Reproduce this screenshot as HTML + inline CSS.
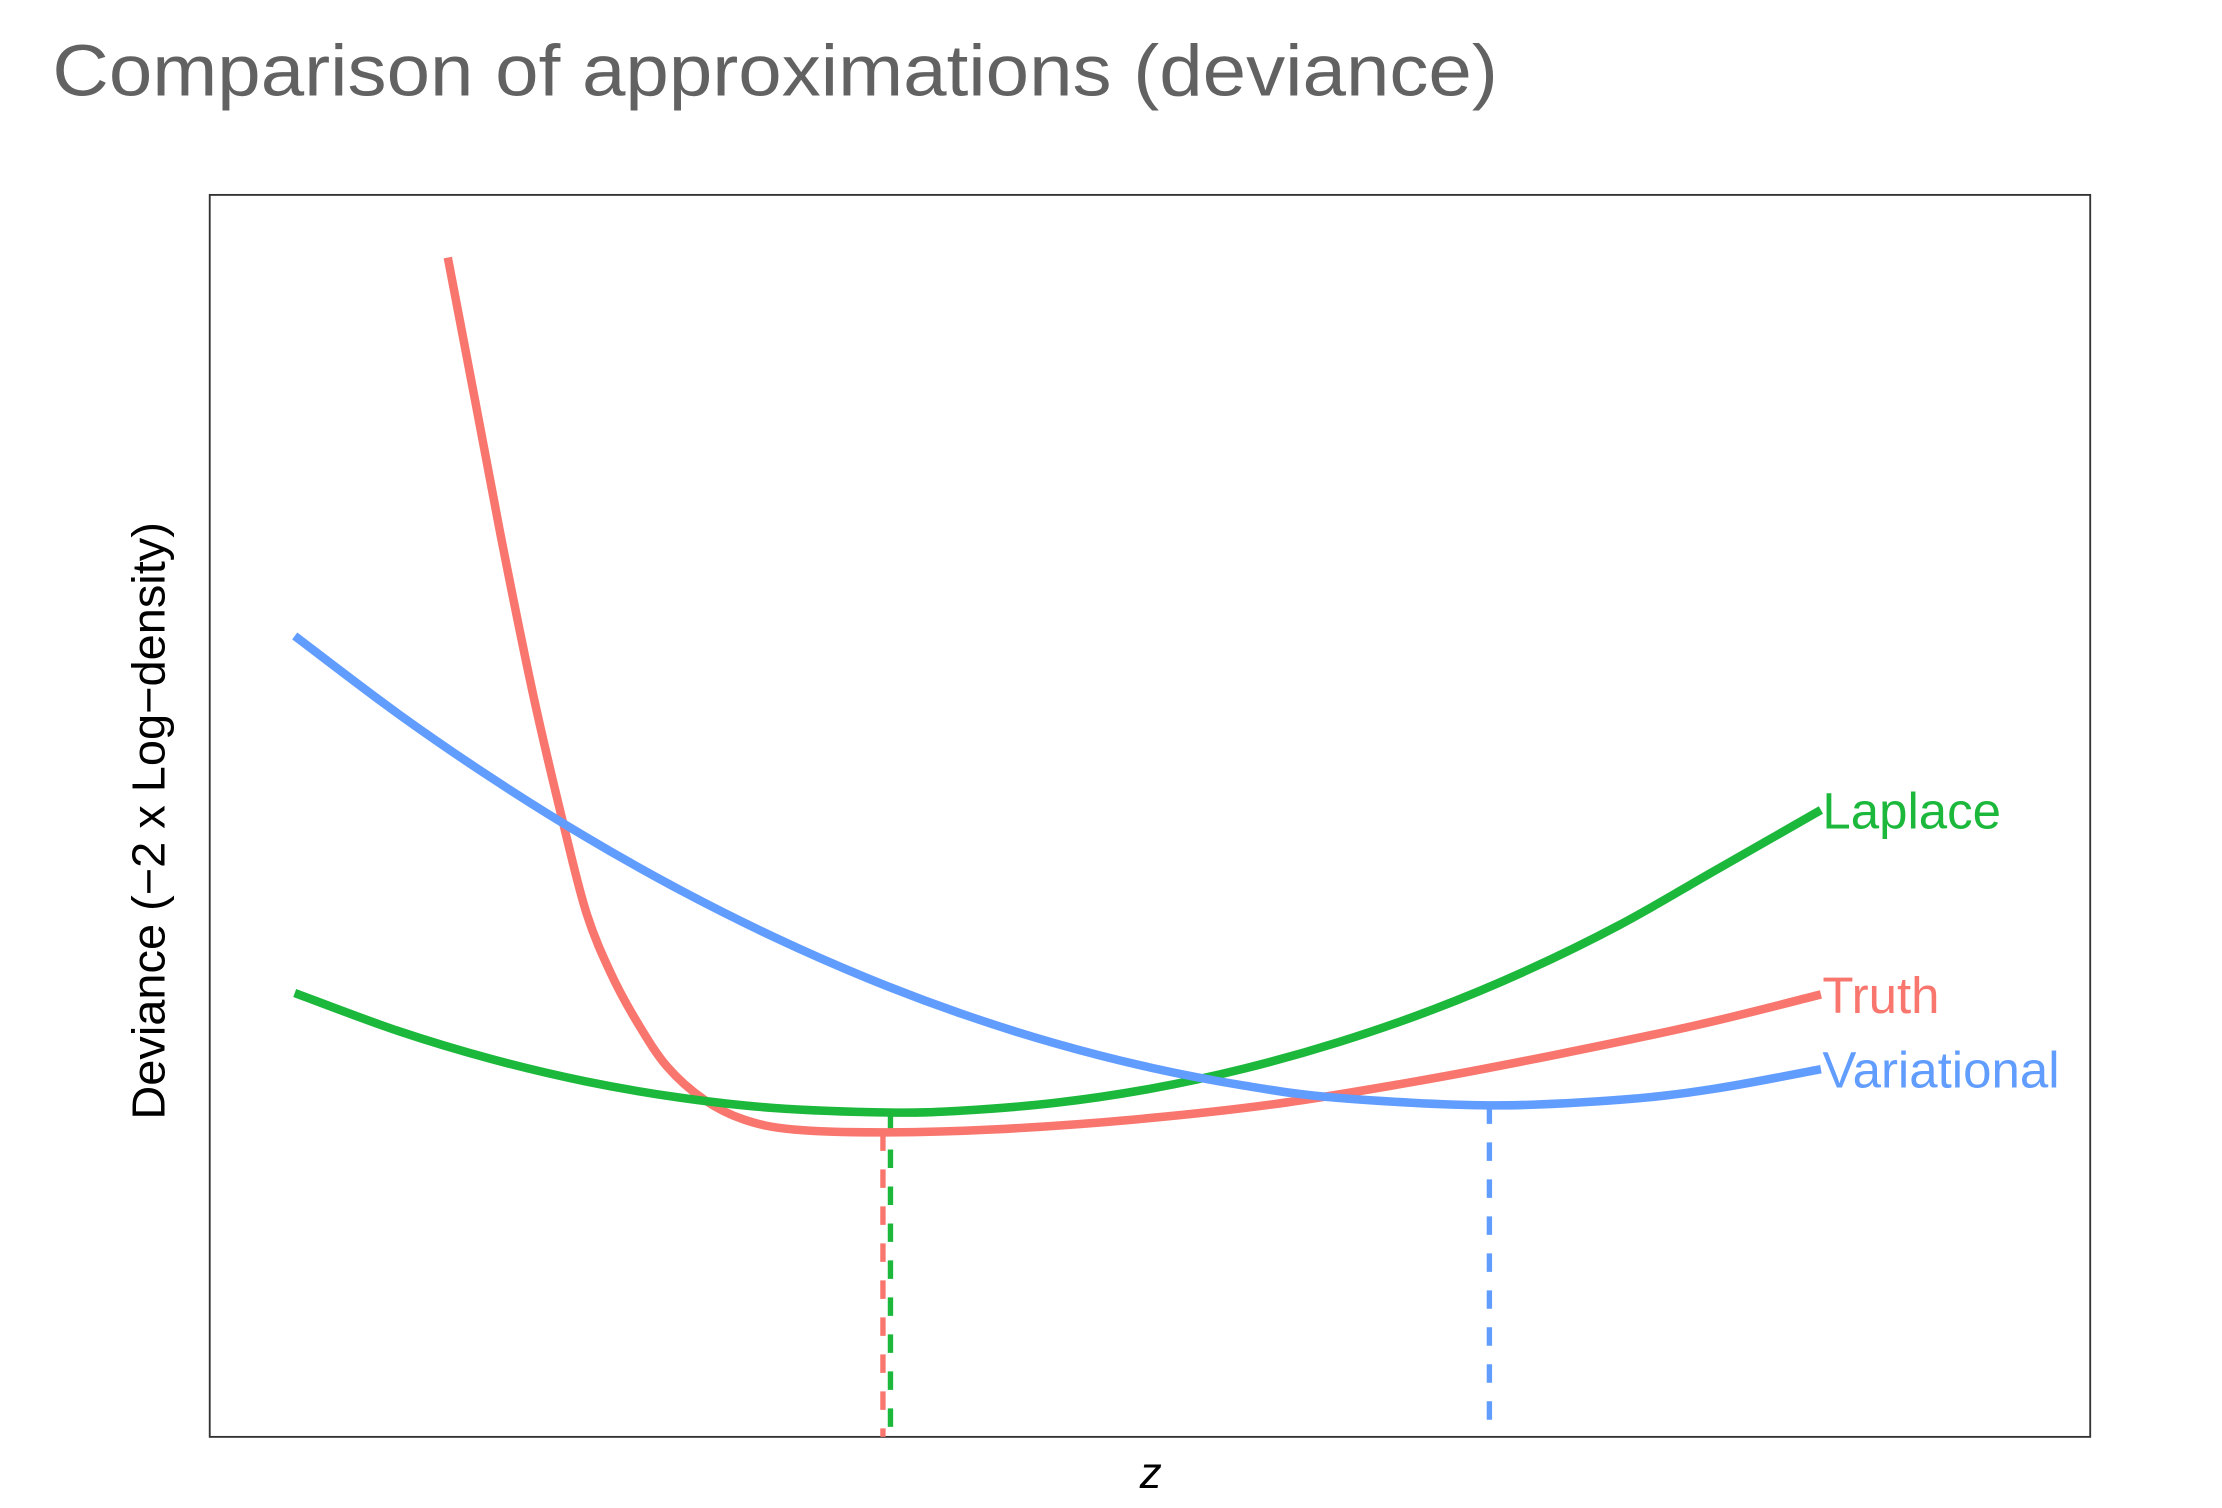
<!DOCTYPE html>
<html><head><meta charset="utf-8"><style>
html,body{margin:0;padding:0;background:#fff;}
svg{display:block;}
</style></head><body>
<svg id="chart" width="2222" height="1508" viewBox="0 0 1568 1060" preserveAspectRatio="none" xmlns="http://www.w3.org/2000/svg">
<text x="37" y="67" font-family="Liberation Sans, sans-serif" font-size="51" fill="#626262" textLength="1020" lengthAdjust="spacingAndGlyphs">Comparison of approximations (deviance)</text>
<rect x="148" y="137" width="1327" height="873" fill="none" stroke="#333" stroke-width="1.3"/>
<text transform="translate(116,577) rotate(-90)" text-anchor="middle" font-family="Liberation Sans, sans-serif" font-size="33" fill="#000">Deviance (−2 x Log−density)</text>
<text x="812" y="1046" text-anchor="middle" font-family="Liberation Sans, sans-serif" font-style="italic" font-size="31" fill="#000">z</text>
<g id="marks"></g>
</svg>
<script>
const truthZ = [1.266,1.409,1.560,1.726,1.884,2.004,2.133,2.276,2.434,2.630,2.841,3.105,3.570,4.160,4.913,5.667,6.420,7.174,7.928,8.568];
const truthY = [9.463,8.333,7.135,5.913,4.897,4.200,3.720,3.320,2.968,2.705,2.546,2.466,2.443,2.466,2.546,2.671,2.854,3.071,3.311,3.550];
const laplaceZ = [0.452,1.0,1.5,2.0,2.5,3.0,3.61,4.0,4.5,5.0,5.5,6.0,6.5,7.0,7.5,8.0,8.568];
const laplaceY = [3.562,3.258,3.031,2.852,2.722,2.639,2.603,2.618,2.681,2.793,2.955,3.166,3.426,3.740,4.110,4.540,5.030];
const variationalZ = [0.452,1.0,1.5,2.0,2.5,3.0,3.5,4.0,4.5,5.0,5.5,6.0,6.805,7.5,8.0,8.568];
const variationalY = [6.427,5.804,5.286,4.814,4.389,4.011,3.679,3.394,3.156,2.964,2.819,2.720,2.660,2.705,2.793,2.950];
const modeZ = [3.58,3.62,6.805];
const modeY = [2.443,2.603,2.660];
const seriesNames = ["Truth","Laplace","Variational"];
const seriesColors = ["#f8766d","#1cb83c","#619cff"];

function sx(z){ return 148 + z*132.7; }
function sy(v){ return 1010 - v*87.6; }
function pathFor(xs, ys){
  const p = xs.map((z,i)=>[sx(z), sy(ys[i])]);
  let d = "M"+p[0][0]+","+p[0][1];
  for(let i=0;i<p.length-1;i++){
    const p0=p[Math.max(0,i-1)], p1=p[i], p2=p[i+1], p3=p[Math.min(p.length-1,i+2)];
    const c1x=p1[0]+(p2[0]-p0[0])/6, c1y=p1[1]+(p2[1]-p0[1])/6;
    const c2x=p2[0]-(p3[0]-p1[0])/6, c2y=p2[1]-(p3[1]-p1[1])/6;
    d += " C"+c1x+","+c1y+" "+c2x+","+c2y+" "+p2[0]+","+p2[1];
  }
  return d;
}
const NS="http://www.w3.org/2000/svg";
const g=document.getElementById("marks");
const allZ=[truthZ,laplaceZ,variationalZ], allY=[truthY,laplaceY,variationalY];
const lineNames=["truth-curve","laplace-curve","variational-curve"];
const dropNames=["truth-mode-line","laplace-mode-line","variational-mode-line"];
const labelNames=["truth-label","laplace-label","variational-label"];
for(let k=0;k<3;k++){
  const dl=document.createElementNS(NS,"line");
  
  
  dl.setAttribute("x1",sx(modeZ[k])); dl.setAttribute("x2",sx(modeZ[k]));
  dl.setAttribute("y1",sy(modeY[k])); dl.setAttribute("y2",1010);
  dl.setAttribute("stroke",seriesColors[k]); dl.setAttribute("stroke-width","3.8");
  dl.setAttribute("stroke-dasharray","13,13");
  g.appendChild(dl);
}
for(let k=0;k<3;k++){
  const pth=document.createElementNS(NS,"path");
  
  
  pth.setAttribute("d",pathFor(allZ[k],allY[k]));
  pth.setAttribute("fill","none"); pth.setAttribute("stroke",seriesColors[k]);
  pth.setAttribute("stroke-width","6");
  g.appendChild(pth);
  const zs=allZ[k], ys=allY[k];
  const t=document.createElementNS(NS,"text");
  
  
  t.setAttribute("x",sx(zs[zs.length-1])+1);
  t.setAttribute("y",sy(ys[ys.length-1])+13);
  t.setAttribute("font-family","Liberation Sans, sans-serif");
  t.setAttribute("font-size","36");
  t.setAttribute("fill",seriesColors[k]);
  t.textContent=seriesNames[k];
  g.appendChild(t);
}
</script>
</body></html>
